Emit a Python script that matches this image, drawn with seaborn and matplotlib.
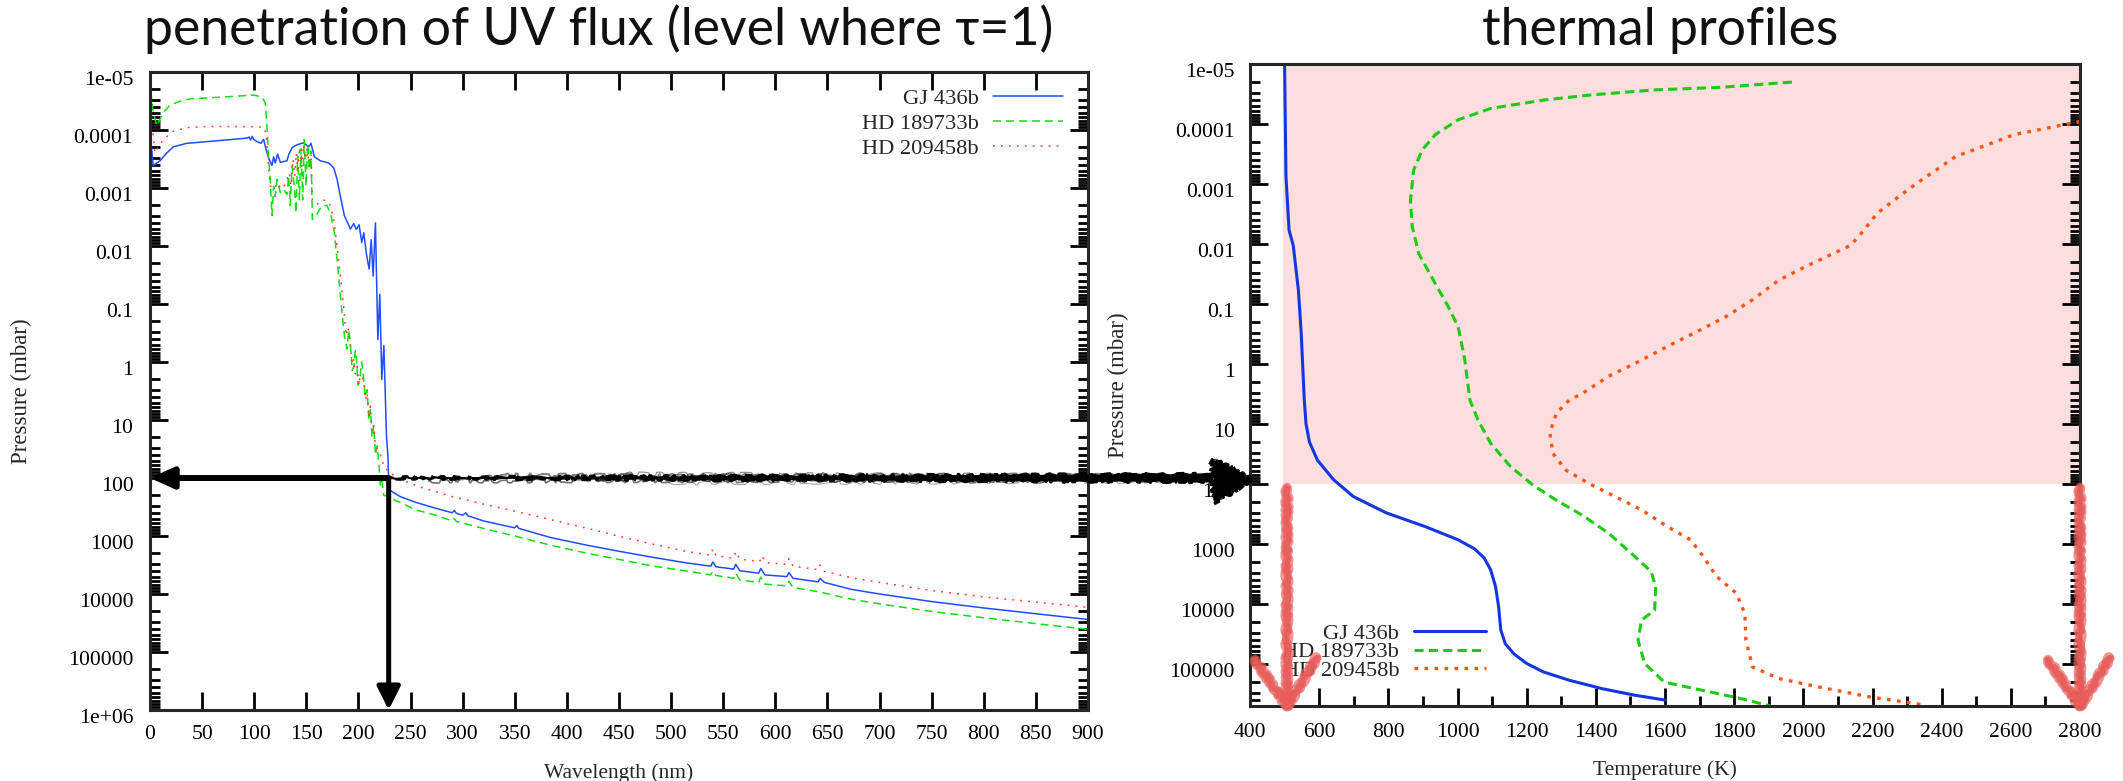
import matplotlib
matplotlib.use("Agg")
import numpy as np
import matplotlib.pyplot as plt
import seaborn as sns
from matplotlib.lines import Line2D
from matplotlib.patches import Polygon
from matplotlib.transforms import IdentityTransform, ScaledTranslation
from matplotlib.ticker import FixedLocator, LogLocator, NullFormatter

# ---------------------------------------------------------------------------
# UV penetration depth: pressure level (mbar) where tau = 1, vs wavelength (nm)
# ---------------------------------------------------------------------------
gj436b_wl = [0.5, 3, 9.6, 16, 22.4, 35, 70.5, 93, 95, 96.5, 98, 99.5, 102.6, 106.4,
             109, 111.5, 114, 117, 118.6, 120.2, 122.4, 125, 131.4, 133.3, 136.5,
             141, 147.4, 152.2, 154.5, 157.7, 163.5, 171.5, 176.3, 179.5, 182.7,
             186.5, 189.7, 192.3, 195.5, 198, 200.6, 203.2, 205.1, 207.7, 210.3,
             212.2, 214.1, 216.3, 218.6, 220.5, 222.4, 224.4, 226.9, 228.3, 229.2,
             231, 240, 255, 272, 290, 292, 294, 300, 303, 305, 320, 350, 352, 354,
             385, 420, 449, 480, 513, 538, 540, 543, 560, 562, 566, 584, 586, 590,
             611, 613, 617, 641, 643, 647, 673, 700, 750, 800, 850, 900]
gj436b_p = [1.3e-4, 4.1e-4, 3.4e-4, 2.5e-4, 1.95e-4, 1.7e-4, 1.5e-4, 1.38e-4, 1.32e-4,
            1.48e-4, 1.29e-4, 1.45e-4, 1.58e-4, 1.7e-4, 1.45e-4, 2.2e-4, 3.1e-4,
            4.1e-4, 2.9e-4, 3.7e-4, 2.6e-4, 3.6e-4, 3.4e-4, 2.6e-4, 2.0e-4, 1.8e-4,
            1.66e-4, 1.95e-4, 1.7e-4, 2.9e-4, 3.4e-4, 3.7e-4, 4.5e-4, 7.1e-4, 1.4e-3,
            3.0e-3, 4.0e-3, 5.1e-3, 4.1e-3, 5.2e-3, 4.3e-3, 8.7e-3, 5.9e-3, 1.4e-2,
            2.5e-2, 7.8e-3, 3.3e-2, 4.0e-3, 0.41, 0.068, 2.0, 0.52, 19, 42, 155,
            166, 209, 263, 324, 398, 363, 407, 437, 398, 447, 550, 724, 661, 741,
            1070, 1450, 1820, 2290, 2880, 3310, 2820, 3390, 3720, 3090, 3980, 4370,
            3630, 4680, 5010, 4270, 5370, 6170, 5370, 6310, 8320, 10000, 13500,
            17400, 21900, 27500]

hd189733b_wl = [0.6, 2.6, 6.4, 12.8, 19.2, 28.8, 38.5, 70.5, 99.4, 107.4, 110.6, 112.2,
                113.8, 115.4, 117, 118.6, 120.2, 121.8, 125, 128.2, 131.4, 133, 134.6,
                136.2, 138.5, 140, 141.7, 143.3, 144.9, 146.5, 148, 149.7, 151.3,
                152.9, 154.5, 155.8, 160.3, 165, 169.9, 173.7, 176.9, 180.1, 183.3,
                186.5, 189.1, 190.7, 192.3, 194, 195.5, 197, 198, 199.6, 201.3, 203,
                204.5, 206.5, 208.3, 210, 211.5, 213, 214.7, 216.3, 218, 220, 221,
                222.5, 224.4, 227.6, 234, 240, 255, 272, 290, 292, 294, 303, 320, 350,
                385, 420, 449, 480, 513, 538, 540, 543, 560, 562, 566, 584, 586, 590,
                611, 613, 617, 641, 673, 700, 750, 800, 850, 900]
hd189733b_p = [2.1e-5, 4.4e-5, 8.5e-5, 5.0e-5, 3.7e-5, 3.2e-5, 2.9e-5, 2.7e-5, 2.5e-5,
               2.7e-5, 3.4e-5, 8.5e-5, 3.2e-4, 7.1e-4, 3.0e-3, 9.3e-4, 1.4e-3, 7.1e-4,
               1.2e-3, 1.05e-3, 1.3e-3, 6.2e-4, 2.0e-3, 4.2e-4, 9.3e-4, 2.7e-3, 2.8e-4,
               1.6e-3, 2.1e-4, 1.6e-3, 1.45e-4, 9.3e-4, 1.8e-4, 4.8e-4, 2.3e-4, 3.5e-3,
               2.8e-3, 2.0e-3, 2.0e-3, 3.0e-3, 5.9e-3, 0.022, 0.095, 0.35, 0.60, 0.28,
               0.50, 1.4, 1.2, 0.63, 0.84, 2.5, 2.0, 1.0, 1.5, 4.0, 3.0, 10, 6.6, 20,
               12.6, 40, 28, 71, 138, 112, 200, 204, 240, 263, 355, 427, 550, 501, 562,
               617, 741, 1000, 1450, 2000, 2510, 3240, 3980, 4680, 4070, 4790, 5370,
               4370, 5750, 6310, 5130, 6760, 7240, 6030, 7760, 9120, 12300, 14800,
               20000, 25700, 32400, 40700]

hd209458b_wl = [0.6, 2.6, 4.8, 8, 12.8, 22.4, 35.3, 54.5, 86.5, 109, 111.5, 113.1,
                115.4, 117.9, 120.2, 122.4, 125, 128.2, 131.4, 133.7, 135.3, 137.2,
                138.8, 140.4, 142, 143.6, 145.5, 147.4, 149, 150.6, 152.9, 154.5,
                155.8, 160.3, 165, 169.9, 173, 176.3, 179.5, 182.7, 186, 188.1, 190,
                192.3, 194, 195.5, 197, 198.7, 200.3, 201.9, 205.1, 206.7, 208.3, 210,
                211.5, 213, 214.7, 216.3, 218, 221, 224.4, 229, 240, 260, 290, 320,
                350, 385, 420, 449, 480, 513, 538, 540, 543, 560, 562, 566, 585, 587,
                591, 611, 613, 617, 641, 643, 647, 673, 700, 750, 800, 850, 900]
hd209458b_p = [8.5e-5, 1.05e-4, 2.5e-4, 2.0e-4, 1.45e-4, 1.05e-4, 9.1e-5, 8.7e-5,
               8.7e-5, 8.9e-5, 1.15e-4, 3.2e-4, 9.3e-4, 9.8e-4, 8.7e-4, 1.07e-3, 8.9e-4,
               9.8e-4, 7.1e-4, 5.5e-4, 9.3e-4, 3.2e-4, 6.2e-4, 2.5e-4, 4.8e-4, 2.0e-4,
               4.2e-4, 1.8e-4, 3.2e-4, 2.1e-4, 4.2e-4, 3.2e-4, 1.6e-3, 1.9e-3, 1.6e-3,
               1.66e-3, 2.0e-3, 3.5e-3, 0.010, 0.033, 0.12, 0.35, 0.25, 0.52, 1.1,
               0.89, 1.6, 1.2, 2.5, 1.7, 2.0, 4.5, 3.4, 8.9, 5.8, 16, 12.6, 28, 32, 39,
               62, 79, 105, 145, 209, 282, 372, 525, 741, 1000, 1350, 1820, 2140, 1660,
               2190, 2400, 1860, 2510, 2750, 2190, 2880, 3090, 2450, 3310, 3800, 3160,
               4070, 5250, 6310, 8710, 11200, 13800, 17000]

# ---------------------------------------------------------------------------
# Thermal profiles: temperature (K) vs pressure (mbar)
# ---------------------------------------------------------------------------
gj436b_T = [500, 504, 513, 525, 540, 548, 557, 562, 572, 595, 642, 699, 794, 907, 1002,
            1049, 1077, 1096, 1110, 1119, 1125, 1138, 1163, 1200, 1248, 1323, 1418,
            1513, 1600]
gj436b_Tp = [1e-5, 7.6e-4, 5.9e-3, 0.0105, 0.059, 0.30, 4.0, 10, 20, 40, 85, 162, 302,
             513, 851, 1200, 1700, 2700, 5100, 11200, 26900, 45700, 67600, 97700,
             135000, 186000, 257000, 331000, 398000]

hd189733b_T = [1967, 1759, 1570, 1380, 1248, 1096, 1002, 936, 898, 873, 864, 869, 888,
               936, 973, 1002, 1021, 1036, 1059, 1096, 1153, 1219, 1286, 1361, 1437,
               1513, 1560, 1573, 1570, 1532, 1522, 1541, 1598, 1702, 1816, 1905]
hd189733b_Tp = [2.0e-5, 2.45e-5, 2.7e-5, 3.3e-5, 4.0e-5, 5.5e-5, 8.5e-5, 1.5e-4, 2.7e-4,
                5.9e-4, 1.9e-3, 5.1e-3, 0.0145, 0.046, 0.11, 0.24, 0.85, 4.0, 8.5, 21,
                51, 105, 186, 331, 661, 1620, 2880, 5130, 12600, 18600, 39800, 97700,
                200000, 269000, 372000, 500000]

hd209458b_T = [2800, 2705, 2610, 2516, 2440, 2383, 2327, 2260, 2213, 2175, 2137, 2080,
               2005, 1929, 1853, 1778, 1702, 1607, 1513, 1437, 1361, 1323, 1286, 1267,
               1276, 1314, 1380, 1456, 1532, 1607, 1674, 1711, 1749, 1806, 1831, 1834,
               1853, 1929, 2043, 2194, 2327, 2355]
hd209458b_Tp = [9.1e-5, 1.17e-4, 1.5e-4, 2.4e-4, 3.5e-4, 5.9e-4, 9.8e-4, 1.9e-3, 3.1e-3,
                5.9e-3, 0.0105, 0.015, 0.024, 0.040, 0.085, 0.16, 0.27, 0.51, 0.98, 1.6,
                3.1, 4.0, 6.6, 14, 31, 59, 98, 162, 269, 513, 851, 1620, 3470, 6610,
                14500, 39800, 112000, 174000, 240000, 355000, 457000, 500000]

planet_names = ["GJ 436b", "HD 189733b", "HD 209458b"]

# axis ticks and labels
wl_ticks = [0, 50, 100, 150, 200, 250, 300, 350, 400, 450, 500, 550, 600, 650, 700,
            750, 800, 850, 900]
wl_labels = ["0", "50", "100", "150", "200", "250", "300", "350", "400", "450", "500",
             "550", "600", "650", "700", "750", "800", "850", "900"]
temp_ticks = [400, 600, 800, 1000, 1200, 1400, 1600, 1800, 2000, 2200, 2400, 2600, 2800]
temp_labels = ["400", "600", "800", "1000", "1200", "1400", "1600", "1800", "2000",
               "2200", "2400", "2600", "2800"]
temp_minor = [500, 700, 900, 1100, 1300, 1500, 1700, 1900, 2100, 2300, 2500, 2700]
p_ticks = [1e-5, 1e-4, 1e-3, 1e-2, 1e-1, 1, 10, 100, 1e3, 1e4, 1e5, 1e6]
p_labels = ["1e-05", "0.0001", "0.001", "0.01", "0.1", "1", "10", "100", "1000",
            "10000", "100000", "1e+06"]

cutoff_nm = 229          # wavelength where UV reaches the 100 mbar level
tau_level_mbar = 100     # depth reached by the UV flux
shade_T_min = 495        # left edge of the shaded UV-heated region
red_arrow_T = [507, 2800]
T_range = (400, 2800)
p_bottom_right = 5.0e5

# ---------------------------------------------------------------------------
sns.set_style("ticks")
plt.rcParams["font.family"] = ["Liberation Serif", "DejaVu Serif"]
plt.rcParams["axes.linewidth"] = 2.2

W, H = 2123, 781
fig = plt.figure(figsize=(W / 100, H / 100), dpi=100)
ax1 = fig.add_axes([150 / W, 1 - 710 / H, 938 / W, 638 / H])
ax2 = fig.add_axes([1250 / W, 1 - 706 / H, 830 / W, 642 / H])

TICK_FS = 15.6
LEG_FS = 16.2

# ---- left panel ------------------------------------------------------------
sns.lineplot(x=gj436b_wl, y=gj436b_p, ax=ax1, color="#1f4dff", lw=1.1,
             sort=False, estimator=None, label=planet_names[0])
sns.lineplot(x=hd189733b_wl, y=hd189733b_p, ax=ax1, color="#10e010", lw=1.1,
             linestyle=(0, (5.2, 3.3)), sort=False, estimator=None,
             label=planet_names[1])
sns.lineplot(x=hd209458b_wl, y=hd209458b_p, ax=ax1, color="#ff3b2a", lw=1.1,
             linestyle=(0, (1.2, 4.0)), sort=False, estimator=None,
             label=planet_names[2])

ax1.set_yscale("log")
ax1.set_xlim(0, 900)
ax1.set_ylim(1e6, 1e-5)
ax1.xaxis.set_major_locator(FixedLocator(wl_ticks))
ax1.set_xticklabels(wl_labels)
ax1.yaxis.set_major_locator(FixedLocator(p_ticks))
ax1.set_yticklabels(p_labels)
ax1.yaxis.set_minor_locator(LogLocator(base=10, subs=np.arange(2, 10), numticks=100))
ax1.yaxis.set_minor_formatter(NullFormatter())
ax1.tick_params(which="both", direction="in", top=True, right=True, width=2,
                colors="black")
ax1.tick_params(which="major", length=13, labelsize=TICK_FS)
ax1.tick_params(axis="x", which="major", pad=11)
ax1.tick_params(axis="y", which="major", pad=12)
ax1.tick_params(which="minor", length=7)
ax1.set_xlabel("Wavelength (nm)", fontsize=15.5)
ax1.xaxis.set_label_coords(0.5, -0.083)
ax1.set_ylabel("Pressure (mbar)", fontsize=16.5)
ax1.yaxis.set_label_coords(-0.126, 0.5)

ax1.legend(loc="upper right", bbox_to_anchor=(0.9733, 0.975), frameon=False,
           markerfirst=False, fontsize=LEG_FS, handlelength=3.1,
           handletextpad=0.65, labelspacing=0.2, borderaxespad=0, borderpad=0)

# cutoff arrows
ax1.annotate("", xy=(0, tau_level_mbar), xytext=(cutoff_nm, tau_level_mbar),
             arrowprops=dict(arrowstyle="-|>,head_length=1.0,head_width=0.45",
                             lw=4.3, color="black", shrinkA=0, shrinkB=0,
                             mutation_scale=14),
             annotation_clip=False, zorder=6)
ax1.annotate("", xy=(cutoff_nm, 1e6), xytext=(cutoff_nm, tau_level_mbar),
             arrowprops=dict(arrowstyle="-|>,head_length=1.0,head_width=0.5",
                             lw=3.6, color="black", shrinkA=0, shrinkB=0,
                             mutation_scale=14),
             annotation_clip=False, zorder=6)

# ---- right panel -----------------------------------------------------------
ax2.set_yscale("log")
ax2.fill_betweenx([1e-5, tau_level_mbar], shade_T_min, T_range[1],
                  color="#fbdedd", lw=0, zorder=0)

sns.lineplot(x=gj436b_T, y=gj436b_Tp, ax=ax2, color="#1336e0", lw=2.2,
             sort=False, estimator=None, label=planet_names[0])
sns.lineplot(x=hd189733b_T, y=hd189733b_Tp, ax=ax2, color="#1ccc10", lw=2.2,
             linestyle=(0, (3.0, 1.7)), sort=False, estimator=None,
             label=planet_names[1])
sns.lineplot(x=hd209458b_T, y=hd209458b_Tp, ax=ax2, color="#ff5514", lw=2.4,
             linestyle=(0, (1.1, 1.9)), sort=False, estimator=None,
             label=planet_names[2])

ax2.set_xlim(*T_range)
ax2.set_ylim(p_bottom_right, 1e-5)
ax2.xaxis.set_major_locator(FixedLocator(temp_ticks))
ax2.set_xticklabels(temp_labels)
ax2.xaxis.set_minor_locator(FixedLocator(temp_minor))
ax2.yaxis.set_major_locator(FixedLocator(p_ticks[:-1]))
ax2.set_yticklabels(p_labels[:-1])
ax2.yaxis.set_minor_locator(LogLocator(base=10, subs=np.arange(2, 10), numticks=100))
ax2.yaxis.set_minor_formatter(NullFormatter())
ax2.tick_params(which="both", direction="in", top=False, right=True, width=2,
                colors="black")
ax2.tick_params(which="major", length=13, labelsize=TICK_FS)
ax2.tick_params(axis="x", which="major", pad=12)
ax2.tick_params(axis="y", which="major", pad=11)
ax2.tick_params(which="minor", length=7)
ax2.set_xlabel("Temperature (K)", fontsize=15.5)
ax2.xaxis.set_label_coords(0.5, -0.084)
ax2.set_ylabel("Pressure (mbar)", fontsize=16.5)
ax2.yaxis.set_label_coords(-0.146, 0.5)

ax2.legend(loc="upper right", bbox_to_anchor=(0.2843, 0.129), frameon=False,
           markerfirst=False, fontsize=LEG_FS, handlelength=3.2,
           handletextpad=0.65, labelspacing=-0.1, borderaxespad=0, borderpad=0)

# tick labels sit slightly below their ticks
for ax in (ax1, ax2):
    for lab in ax.get_yticklabels():
        lab.set_transform(lab.get_transform()
                          + ScaledTranslation(0, -6 / 100, fig.dpi_scale_trans))
    for spine in ax.spines.values():
        spine.set_linewidth(2.2)
        spine.set_visible(True)

# ---- hand-drawn annotations ---------------------------------------------------
ident = IdentityTransform()

# sketched arrow carrying the 100 mbar level over to the thermal profiles
x_start, y_lvl = ax1.transData.transform((cutoff_nm, tau_level_mbar))
x_tip, _ = ax2.transData.transform((T_range[0], tau_level_mbar))
x_tip += 2
x_body_end = x_tip - 38
body = Polygon([(x_start + 2, y_lvl + 1), (x_body_end, y_lvl + 4.5),
                (x_body_end, y_lvl - 4.5), (x_start + 2, y_lvl - 1)],
               closed=True, transform=ident, facecolor="black", edgecolor="black",
               lw=0.8, zorder=7)
body.set_sketch_params(scale=1.2, length=40, randomness=20)
fig.add_artist(body)
for k, (dy, lw, a) in enumerate([(-3, 1.2, 0.55), (2.5, 1.4, 0.5), (-1, 1.0, 0.6),
                                 (4, 0.8, 0.45), (-5, 0.7, 0.4)]):
    st = Line2D([x_start + 40 + 60 * k, x_body_end + 5], [y_lvl + dy, y_lvl + dy * 0.6],
                transform=ident, color="black", lw=lw, alpha=a, zorder=7)
    st.set_sketch_params(scale=2.0, length=60 + 10 * k, randomness=30)
    fig.add_artist(st)
head = Polygon([(x_tip - 40, y_lvl + 19), (x_tip, y_lvl - 1), (x_tip - 38, y_lvl - 25)],
               closed=True, transform=ident, facecolor="black", edgecolor="black",
               lw=1.5, zorder=7)
head.set_sketch_params(scale=2.5, length=12, randomness=8)
fig.add_artist(head)
for k in range(6):
    sc = Line2D([x_tip - 40 + k, x_tip - 2, x_tip - 38 + k * 0.5],
                [y_lvl + 19 - 2 * k, y_lvl - 1, y_lvl - 25 + 2 * k],
                transform=ident, color="black", lw=1.2, alpha=0.7, zorder=7)
    sc.set_sketch_params(scale=2.0, length=8 + 2 * k, randomness=10)
    fig.add_artist(sc)

# red arrows marking the deep, unshaded layers
_, y_floor = ax2.transData.transform((T_range[0], p_bottom_right))
for T in red_arrow_T:
    xa, ya = ax2.transData.transform((T, tau_level_mbar))
    ya -= 4
    shaft = ([xa, xa], [ya, y_floor])
    vee = ([xa - 32, xa, xa + 30], [y_floor + 46, y_floor, y_floor + 48])
    for xs, ys in (shaft, vee):
        for k, (w, a, rnd) in enumerate([(7.5, 0.65, 6), (5.5, 0.7, 12), (3.5, 0.8, 18)]):
            ln = Line2D(xs, ys, transform=ident, color="#e85d5a", lw=w, alpha=a,
                        solid_capstyle="round", solid_joinstyle="round", zorder=8)
            ln.set_sketch_params(scale=1.4, length=14 + 6 * k, randomness=rnd)
            fig.add_artist(ln)

# ---- titles ------------------------------------------------------------------
title_font = ["Lato", "DejaVu Sans"]
fig.text(599 / W, 1 - 45 / H, "penetration of UV flux (level where τ=1)",
         ha="center", va="baseline", fontsize=37.3, family=title_font, weight="normal",
         color="#111111")
fig.text(1660 / W, 1 - 45 / H, "thermal profiles",
         ha="center", va="baseline", fontsize=37.3, family=title_font, weight="normal",
         color="#111111")

fig.savefig("out.png", dpi=100)
